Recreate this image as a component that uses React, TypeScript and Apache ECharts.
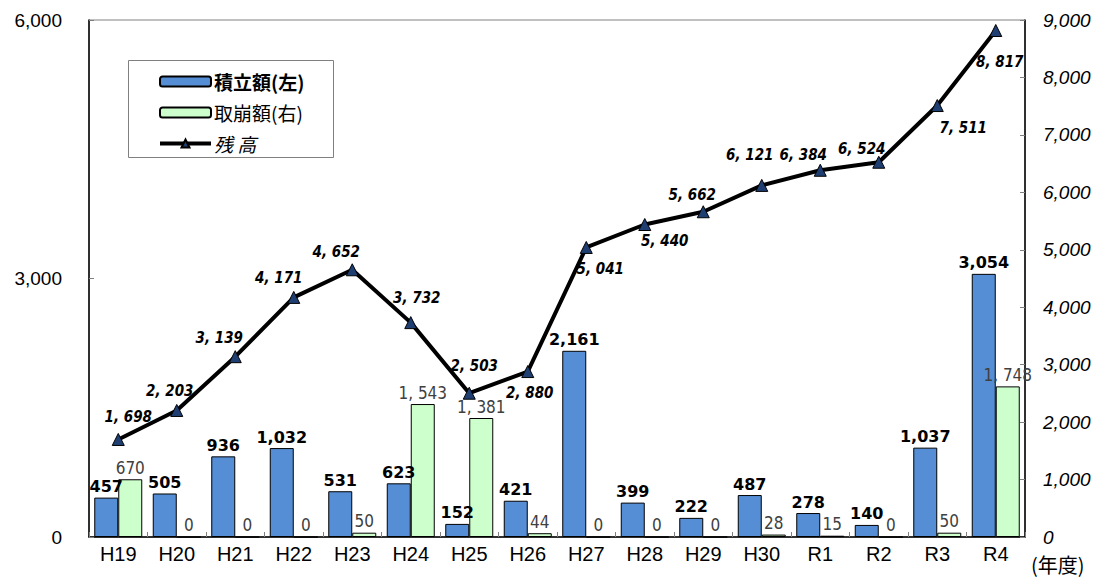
import React, { useEffect, useRef } from "react";
import * as echarts from "echarts";

const categories = ["H19", "H20", "H21", "H22", "H23", "H24", "H25", "H26", "H27", "H28", "H29", "H30", "R1", "R2", "R3", "R4"];
const tsumitate = [457, 505, 936, 1032, 531, 623, 152, 421, 2161, 399, 222, 487, 278, 140, 1037, 3054];
const torikuzushi = [670, 0, 0, 0, 50, 1543, 1381, 44, 0, 0, 0, 28, 15, 0, 50, 1748];
const zandaka = [1698, 2203, 3139, 4171, 4652, 3732, 2503, 2880, 5041, 5440, 5662, 6121, 6384, 6524, 7511, 8817];
const zandakaLabelOffsets: number[][] = [
  [10, -22], [-7, -19], [-16, -19], [-15, -19], [-16, -18], [6, -25], [5, -27], [2, 21],
  [14, 22], [20, 16], [-11, -17], [-12, -30], [-17, -15], [-17, -13], [26, 22], [4, 31],
];
const leftTicks = { min: 0, max: 6000, interval: 3000 };
const rightTicks = { min: 0, max: 9000, interval: 1000 };

const fmtSpaced = (v: number) => v.toLocaleString("en-US").replace(",", ", ");
const JP = "'Noto Sans CJK JP', 'Liberation Sans', sans-serif";
const NUM = "'Liberation Sans', Arial, sans-serif";
const BOLDNUM = "'DejaVu Sans', 'Liberation Sans', sans-serif";
const NARROW = "'Liberation Sans Narrow', 'DejaVu Sans Condensed', 'Noto Sans CJK JP', sans-serif";

export default function App() {
  const ref = useRef<HTMLDivElement>(null);
  useEffect(() => {
    if (!ref.current) return;
    const chart = echarts.init(ref.current, undefined, { renderer: "svg" });
    chart.setOption({
      animation: false,
      backgroundColor: "#ffffff",
      grid: { left: 89, right: 79, top: 20, bottom: 44, show: true, borderColor: "#808080", borderWidth: 1, containLabel: false },
      legend: {
        orient: "vertical",
        left: 153,
        top: 67,
        itemWidth: 51,
        itemHeight: 10,
        itemGap: 12,
        textStyle: { fontSize: 19, color: "#000", fontFamily: JP, padding: [0, 0, 0, -2] },
        data: [
          { name: "積立額(左)", textStyle: { fontWeight: "bold" } },
          { name: "取崩額(右)" },
          { name: "残 高", textStyle: { fontStyle: "italic" }, lineStyle: { width: 4, color: "#000" } },
        ],
      },
      graphic: [
        { type: "rect", shape: { x: 128.5, y: 60.5, width: 205, height: 97 }, style: { fill: "none", stroke: "#808080", lineWidth: 1 }, z: -1 },
        { type: "text", left: 1031, top: 554, style: { text: "(年度)", fill: "#000", font: `20px ${JP}` } },
      ],
      xAxis: {
        type: "category",
        data: categories,
        axisLine: { lineStyle: { color: "#000", width: 1.5 } },
        axisTick: { show: true, inside: true, length: 5, lineStyle: { color: "#808080" } },
        axisLabel: { fontSize: 20, color: "#000", margin: 7, fontFamily: NUM },
      },
      yAxis: [
        {
          type: "value",
          ...leftTicks,
          position: "left",
          axisLine: { show: true, lineStyle: { color: "#000", width: 1.5 } },
          axisTick: { show: true, inside: true, length: 5, lineStyle: { color: "#808080" } },
          splitLine: { show: false },
          axisLabel: { fontSize: 19, color: "#000", margin: 27, fontFamily: NUM, formatter: (v: number) => v.toLocaleString("en-US") },
        },
        {
          type: "value",
          ...rightTicks,
          position: "right",
          axisLine: { show: true, lineStyle: { color: "#000", width: 1.5 } },
          axisTick: { show: true, inside: true, length: 5, lineStyle: { color: "#808080" } },
          splitLine: { show: false },
          axisLabel: { fontSize: 19, color: "#000", margin: 18, fontStyle: "italic", fontFamily: NUM, formatter: (v: number) => v.toLocaleString("en-US") },
        },
      ],
      series: [
        {
          name: "積立額(左)",
          type: "bar",
          yAxisIndex: 0,
          data: tsumitate,
          barWidth: 24,
          barGap: "0%",
          itemStyle: { color: "#558ed5", borderColor: "#000", borderWidth: 1 },
          label: { show: true, position: "top", distance: 3, fontSize: 16, fontWeight: "bold", color: "#000", fontFamily: BOLDNUM, formatter: (p: any) => p.value.toLocaleString("en-US") },
        },
        {
          name: "取崩額(右)",
          type: "bar",
          yAxisIndex: 0,
          data: torikuzushi,
          barWidth: 24,
          barGap: "0%",
          itemStyle: { color: "#ccffcc", borderColor: "#000", borderWidth: 1 },
          label: { show: true, position: "top", distance: 3, fontSize: 17, color: "#404040", fontFamily: NARROW, formatter: (p: any) => fmtSpaced(p.value) },
        },
        {
          name: "残 高",
          type: "line",
          yAxisIndex: 1,
          data: zandaka.map((v, i) => ({ value: v, label: { offset: zandakaLabelOffsets[i] } })),
          symbol: "triangle",
          symbolSize: 12,
          lineStyle: { color: "#000", width: 4 },
          itemStyle: { color: "#1f3f73", borderColor: "#000", borderWidth: 1 },
          z: 5,
          label: {
            show: true,
            position: "inside",
            align: "center",
            verticalAlign: "middle",
            fontSize: 15,
            fontWeight: "bold",
            fontStyle: "italic",
            color: "#000",
            fontFamily: NARROW,
            formatter: (p: any) => fmtSpaced(p.value),
          },
        },
      ],
    });
    return () => chart.dispose();
  }, []);
  return <div ref={ref} style={{ position: "fixed", left: 0, top: 0, width: 1104, height: 581 }} />;
}
